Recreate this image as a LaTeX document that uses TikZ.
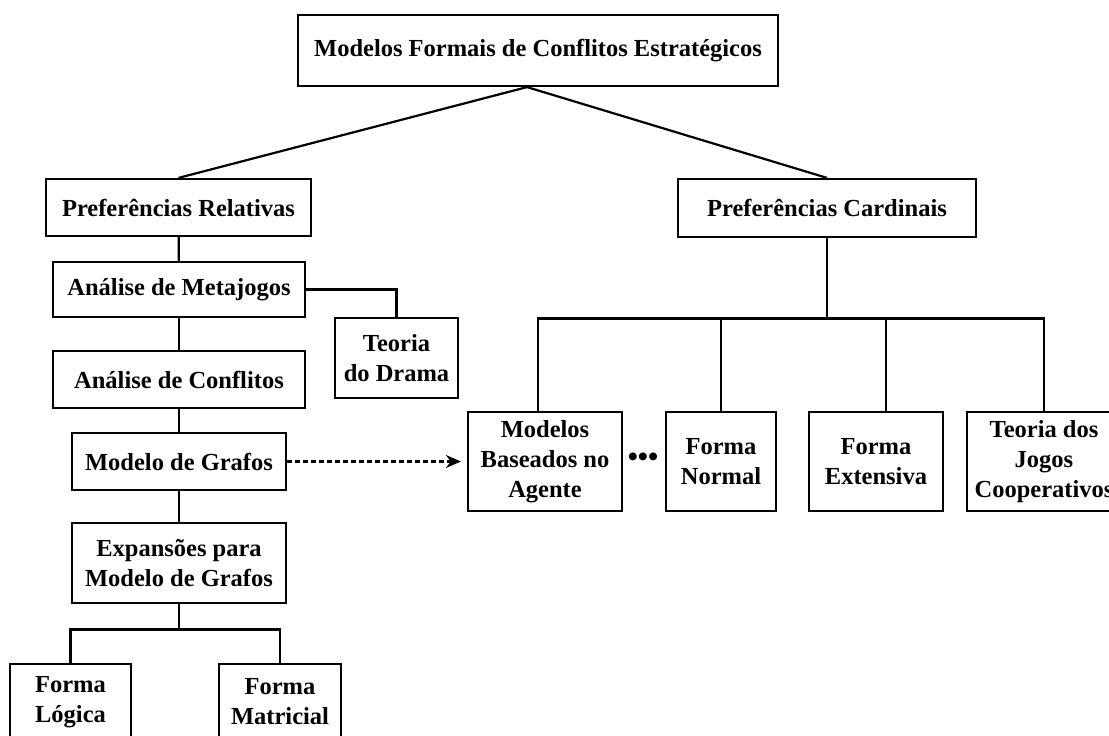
\documentclass[tikz,border=0pt]{standalone}
\usepackage{fontspec}
\setmainfont{Liberation Serif}
\usetikzlibrary{arrows.meta}

\begin{document}
\begin{tikzpicture}[x=1pt,y=-1pt,>={Stealth[length=15pt,width=13pt]},
  line width=2.2pt,
  box node/.style={rectangle,draw,align=center,inner sep=0pt,
    font=\fontsize{24.5}{30}\selectfont\bfseries},
  dashed arrow/.style={->,line width=2.2pt,dash pattern=on 5pt off 3pt,shorten >=6pt}]
  \useasboundingbox (0,0) rectangle (1109,736);
  \clip (0,0) rectangle (1109,736);
  % top level
  \node[box node, minimum width=480pt, minimum height=71pt] (top) at (538,50.5)
    {Modelos Formais de Conflitos Estratégicos};
  \node[box node, minimum width=265pt, minimum height=57pt] (prefrel) at (178.5,207.5)
    {Preferências Relativas};
  \node[box node, minimum width=298pt, minimum height=58pt] (prefcard) at (827,208)
    {Preferências Cardinais};
  % left branch
  \node[box node, minimum width=252pt, minimum height=55pt] (meta) at (179,289.5)
    {Análise de Metajogos};
  \node[box node, minimum width=123pt, minimum height=80pt] (drama) at (396.5,358)
    {Teoria\\do Drama};
  \node[box node, minimum width=252pt, minimum height=57pt] (confl) at (179,379.5)
    {Análise de Conflitos};
  \node[box node, minimum width=214pt, minimum height=57pt] (grafos) at (179,461.5)
    {Modelo de Grafos};
  \node[box node, minimum width=214pt, minimum height=80pt] (expans) at (179,563)
    {Expansões para\\Modelo de Grafos};
  \node[box node, minimum width=121pt, minimum height=76pt] (logica) at (70.5,702)
    {Forma\\Lógica};
  \node[box node, minimum width=122pt, minimum height=76pt] (matric) at (280,702)
    {Forma\\Matricial};
  % right branch
  \node[box node, minimum width=154pt, minimum height=99pt] (mba) at (545,461.5)
    {Modelos\\Baseados no\\Agente};
  \node[font=\fontsize{29}{30}\selectfont\bfseries, inner sep=0pt] (dots) at (643,460)
    {\textbullet\textbullet\textbullet};
  \node[box node, minimum width=110pt, minimum height=99pt] (normal) at (721,461.5)
    {Forma\\Normal};
  \node[box node, minimum width=134pt, minimum height=99pt] (extens) at (876,461.5)
    {Forma\\Extensiva};
  \node[box node, minimum width=154pt, minimum height=99pt] (coop) at (1044,461.5)
    {Teoria dos\\Jogos\\Cooperativos};
  \coordinate (rbar) at (827,318.5);
  \coordinate (lbar) at (179,629.5);

  % connectors
  \draw ([xshift=-11pt]top.south) -- (prefrel.north);
  \draw ([xshift=-11pt]top.south) -- (prefcard.north);
  \draw (prefrel) -- (meta);
  \draw (meta) -- (confl);
  \draw (confl) -- (grafos);
  \draw (grafos) -- (expans);
  \draw (meta.east) -| (drama.north);
  \draw (expans.south) -- (lbar);
  \draw (logica.north) |- (lbar) -| (matric.north);
  \draw (prefcard.south) -- (rbar);
  \draw ([xshift=-7pt]mba.north) |- (rbar) -| (coop.north);
  \draw (normal.north) -- (normal.north |- rbar);
  \draw ([xshift=10pt]extens.north) -- ([xshift=10pt]extens.north |- rbar);
  \draw[dashed arrow] (grafos.east) -- (mba.west);
\end{tikzpicture}
\end{document}
